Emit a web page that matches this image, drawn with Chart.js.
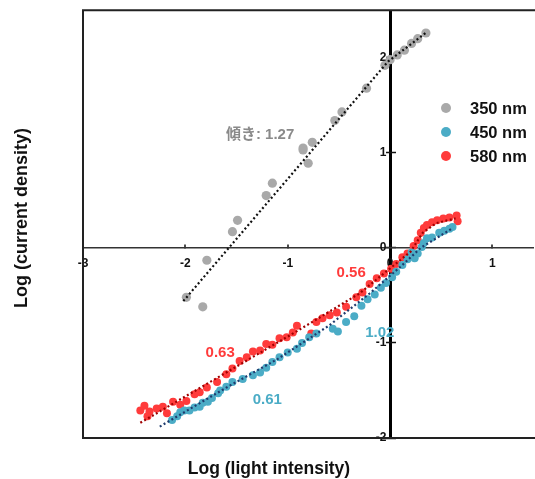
<!DOCTYPE html>
<html><head><meta charset="utf-8">
<script src="https://cdn.jsdelivr.net/npm/chart.js@4.4.1/dist/chart.umd.min.js"></script>
<style>html,body{margin:0;padding:0;background:#fff;overflow:hidden}#wrap{width:535px;height:479px;position:relative;overflow:hidden}</style>
</head><body><div id="wrap"><canvas id="c" width="539" height="479"></canvas></div>
<script>
// ---- data ----
const xTicks = [-3, -2, -1, 0, 1];
const yTicks = [-2, -1, 0, 1, 2];
const seriesNames = ['350 nm', '450 nm', '580 nm'];
const xTitle = 'Log (light intensity)';
const yTitle = 'Log (current density)';

const s350 = [[-1.99,-0.52],[-1.83,-0.62],[-1.79,-0.13],[-1.54,0.17],[-1.49,0.29],[-1.21,0.55],[-1.15,0.68],
  [-0.85,1.03],[-0.80,0.89],[-0.85,1.05],[-0.76,1.11],[-0.54,1.34],[-0.47,1.43],[-0.23,1.68],
  [-0.05,1.92],[0.0,1.98],[0.07,2.03],[0.14,2.08],[0.21,2.15],[0.27,2.20],[0.35,2.26]];
const s450 = [[-2.13,-1.81],[-2.08,-1.77],[-2.05,-1.73],[-2.01,-1.71],[-1.96,-1.71],[-1.91,-1.68],[-1.86,-1.67],
  [-1.83,-1.63],[-1.78,-1.62],[-1.74,-1.58],[-1.68,-1.53],[-1.66,-1.50],[-1.60,-1.46],[-1.54,-1.41],
  [-1.44,-1.38],[-1.34,-1.34],[-1.27,-1.31],[-1.21,-1.26],[-1.15,-1.20],[-1.08,-1.15],[-1.00,-1.10],
  [-0.91,-1.06],[-0.86,-1.00],[-0.79,-0.94],[-0.72,-0.90],[-0.56,-0.85],[-0.51,-0.88],[-0.43,-0.78],
  [-0.35,-0.72],[-0.28,-0.61],[-0.22,-0.54],[-0.15,-0.49],[-0.09,-0.42],[-0.04,-0.37],[0.02,-0.31],
  [0.06,-0.25],[0.12,-0.18],[0.17,-0.12],[0.21,-0.05],[0.24,-0.11],[0.27,-0.06],[0.31,0.01],
  [0.33,0.05],[0.36,0.10],[0.41,0.11],[0.48,0.16],[0.53,0.18],[0.58,0.20],[0.61,0.22]];
const s580 = [[-2.44,-1.71],[-2.40,-1.66],[-2.35,-1.72],[-2.37,-1.77],[-2.28,-1.69],[-2.22,-1.67],[-2.18,-1.74],
  [-2.12,-1.62],[-2.05,-1.65],[-1.99,-1.61],[-1.91,-1.54],[-1.86,-1.52],[-1.79,-1.47],[-1.69,-1.41],
  [-1.60,-1.33],[-1.54,-1.27],[-1.47,-1.19],[-1.40,-1.15],[-1.34,-1.09],[-1.27,-1.08],[-1.21,-1.01],
  [-1.15,-1.02],[-1.08,-0.95],[-1.01,-0.94],[-0.95,-0.89],[-0.91,-0.82],[-0.77,-0.90],[-0.72,-0.78],
  [-0.66,-0.74],[-0.59,-0.71],[-0.52,-0.68],[-0.43,-0.62],[-0.33,-0.52],[-0.27,-0.47],[-0.20,-0.38],
  [-0.13,-0.32],[-0.06,-0.27],[0.01,-0.22],[0.06,-0.17],[0.12,-0.10],[0.17,-0.06],[0.23,0.02],
  [0.27,0.08],[0.30,0.16],[0.33,0.21],[0.36,0.24],[0.41,0.27],[0.46,0.29],[0.52,0.31],[0.58,0.32],
  [0.65,0.34],[0.66,0.28]];
const fit350 = [[-2.02,-0.56],[-0.02,1.96],[0.36,2.27]];
const fit450 = [[-2.25,-1.88],[-1.60,-1.47],[-1.10,-1.17],[-0.60,-0.82],[-0.20,-0.48],[0.10,-0.20],[0.30,0.00],[0.60,0.20]];
const fit580 = [[-2.44,-1.84],[-0.90,-0.87],[-0.30,-0.48],[0.20,-0.04],[0.32,0.16],[0.45,0.26],[0.64,0.31]];
const slopeLabels = ['傾き: 1.27', '0.56', '0.63', '0.61', '1.02'];
const slopeAt = [[-1.27,1.19],[-0.38,-0.26],[-1.66,-1.10],[-1.20,-1.60],[-0.10,-0.89]];
const slopeColors = ['#8a8a8a','#ff3b3b','#ff3b3b','#4bacc6','#4bacc6'];

const colors = ['#a9a9a9', '#4bacc6', '#ff3b3b'];
const FONT = "'Liberation Sans', Arial, 'Noto Sans CJK JP', sans-serif";
const pts = a => a.map(p => ({x: p[0], y: p[1]}));

const scatter = (label, d, c, r, order) => ({type:'scatter', label, data: pts(d), backgroundColor: c, borderWidth: 0,
  pointRadius: r, pointHoverRadius: r, order});
const fitLine = (d, c) => ({type:'line', label:'fit', data: pts(d), borderColor: c, borderWidth: 2.2,
  borderDash: [2, 2.5], pointRadius: 0, fill: false, tension: 0, order: 0});

const frame = {
  id: 'frame',
  beforeDatasetsDraw(chart) {
    const {ctx, chartArea: a} = chart;
    ctx.save();
    ctx.strokeStyle = '#222'; ctx.lineWidth = 2;
    ctx.beginPath();
    ctx.moveTo(a.right + 4, a.top); ctx.lineTo(a.left, a.top); ctx.lineTo(a.left, a.bottom); ctx.lineTo(a.right + 4, a.bottom);
    ctx.stroke();
    ctx.restore();
  },
  afterDraw(chart) {
    const {ctx, scales: {x, y}} = chart;
    ctx.save();
    // slope annotations
    ctx.font = 'bold 15px ' + FONT; ctx.textAlign = 'center'; ctx.textBaseline = 'middle';
    slopeLabels.forEach((t, i) => {
      ctx.fillStyle = slopeColors[i];
      ctx.fillText(t, x.getPixelForValue(slopeAt[i][0]), y.getPixelForValue(slopeAt[i][1]));
    });
    // legend
    ctx.font = 'bold 16.5px ' + FONT; ctx.textAlign = 'left';
    const rows = [108, 132, 156];
    seriesNames.forEach((n, i) => {
      ctx.fillStyle = colors[i];
      ctx.beginPath(); ctx.arc(446, rows[i], 5, 0, Math.PI * 2); ctx.fill();
      ctx.fillStyle = '#111';
      ctx.fillText(n, 470, rows[i] + 1);
    });
    // axis titles
    ctx.fillStyle = '#111'; ctx.textAlign = 'center';
    ctx.font = 'bold 17.5px ' + FONT;
    ctx.fillText(xTitle, 269, 469);
    ctx.font = 'bold 18px ' + FONT;
    ctx.translate(22, 218); ctx.rotate(-Math.PI / 2);
    ctx.fillText(yTitle, 0, 0);
    ctx.restore();
  }
};

new Chart(document.getElementById('c'), {
  data: {
    datasets: [
      fitLine(fit350, '#111'),
      fitLine(fit450, '#1f3b6e'),
      fitLine(fit580, '#a00000'),
      scatter(seriesNames[0], s350, colors[0], 4.6, 1),
      scatter(seriesNames[1], s450, colors[1], 4, 1),
      scatter(seriesNames[2], s580, colors[2], 4, 2)
    ]
  },
  options: {
    responsive: false, animation: false, devicePixelRatio: 1,
    layout: {padding: {left: 83, top: 10, right: 0, bottom: 41}},
    plugins: {legend: {display: false}, tooltip: {enabled: false}, title: {display: false}},
    scales: {
      x: {type: 'linear', min: -3, max: 1.41, position: {y: 0},
        afterBuildTicks: s => { s.ticks = xTicks.map(v => ({value: v})); },
        grid: {drawOnChartArea: true, drawTicks: true, tickLength: -4, tickColor: '#111', tickWidth: 1.5,
          color: '#000', lineWidth: c => (c.tick && c.tick.value === 0) ? 3 : 0},
        border: {display: true, color: '#333', width: 1.5},
        ticks: {padding: 13, color: '#111', font: {family: FONT, size: 12, weight: 'bold'}, callback: v => String(v)}
      },
      y: {type: 'linear', min: -2, max: 2.5, position: {x: -0.035},
        afterBuildTicks: s => { s.ticks = yTicks.map(v => ({value: v})); },
        grid: {drawOnChartArea: false, drawTicks: true, tickLength: -10, tickColor: '#111', tickWidth: 1.5},
        border: {display: false},
        ticks: {color: '#111', font: {family: FONT, size: 12, weight: 'bold'}, callback: v => String(v)}
      }
    }
  },
  plugins: [frame]
});
</script></body></html>
